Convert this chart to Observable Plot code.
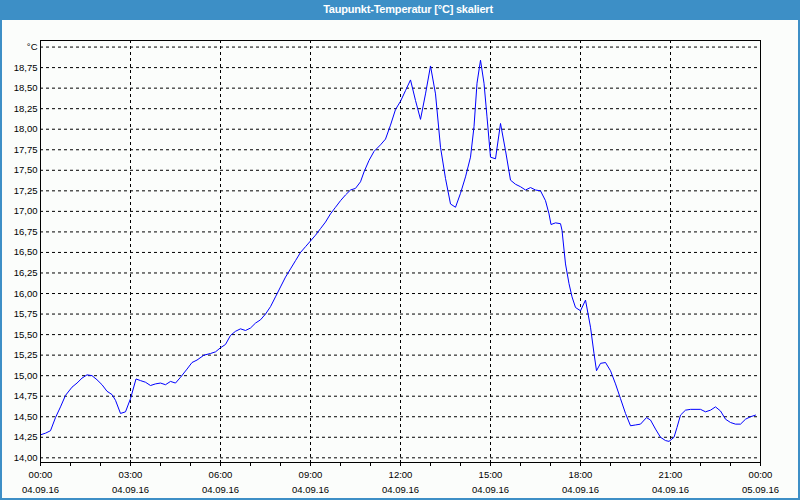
<!DOCTYPE html>
<html>
<head>
<meta charset="utf-8">
<script src="https://cdn.jsdelivr.net/npm/d3@7"></script>
<script src="https://cdn.jsdelivr.net/npm/@observablehq/plot@0.6"></script>
<style>
  html, body { margin: 0; padding: 0; background: #ffffff; }
  #wrap { position: relative; width: 800px; height: 500px; box-sizing: border-box;
          border-left: 2px solid #3d8fc6; border-right: 2px solid #3d8fc6; border-bottom: 2px solid #3d8fc6;
          background: #fbfdfb; overflow: hidden; }
  #title { height: 20px; background: #3d8fc6; color: #ffffff; font: bold 11px "Liberation Sans", Arial, sans-serif;
           line-height: 19px; text-align: center; padding-left: 16px; box-sizing: border-box; letter-spacing: -0.2px; }
  #chart svg { display: block; }
</style>
</head>
<body>
<div id="wrap">
  <div id="title">Taupunkt-Temperatur [°C] skaliert</div>
  <div id="chart"></div>
</div>
<script>
const times = ["00:00","00:10","00:20","00:30","00:40","00:50","01:03","01:13","01:23","01:33","01:43","01:53",
  "02:03","02:13","02:23","02:30","02:40","02:50","03:00","03:11","03:20","03:30","03:40","03:50",
  "04:00","04:10","04:20","04:30","04:40","04:53","05:03","05:13","05:27","05:40","05:50",
  "06:00","06:10","06:20","06:30","06:40","06:50","07:00","07:10","07:20","07:30","07:40","07:50",
  "08:00","08:10","08:20","08:30","08:40","08:50","09:00","09:10","09:20","09:30","09:40","09:50",
  "10:00","10:10","10:20","10:30","10:40","10:47","10:57","11:07","11:20","11:30","11:40","11:50",
  "12:00","12:10","12:20","12:30","12:40","12:50","13:00","13:10","13:20","13:30","13:40","13:50",
  "14:00","14:10","14:20","14:27","14:33","14:40","14:47","14:53","15:00","15:10","15:20","15:30","15:40","15:50",
  "16:00","16:10","16:20","16:30","16:40","16:50","16:57","17:01","17:10","17:20","17:23","17:30","17:37","17:43","17:50",
  "18:00","18:10","18:20","18:27","18:32","18:40","18:50","19:00","19:10","19:20","19:30","19:40","19:50",
  "20:00","20:12","20:20","20:30","20:40","20:50","20:57","21:07","21:13","21:20","21:30","21:40",
  "22:00","22:10","22:20","22:30","22:40","22:50","23:00","23:10","23:20","23:30","23:40","23:50"];
const values = [14.28,14.30,14.33,14.49,14.62,14.76,14.86,14.91,14.97,15.01,15.00,14.95,
  14.89,14.81,14.77,14.70,14.54,14.56,14.72,14.96,14.94,14.92,14.88,14.90,
  14.91,14.89,14.93,14.91,14.98,15.08,15.16,15.19,15.25,15.27,15.29,
  15.34,15.38,15.49,15.54,15.57,15.55,15.58,15.64,15.68,15.75,15.84,15.96,
  16.08,16.20,16.30,16.40,16.50,16.57,16.64,16.71,16.79,16.87,16.97,17.05,
  17.13,17.20,17.26,17.28,17.36,17.48,17.62,17.73,17.81,17.88,18.05,18.24,
  18.34,18.47,18.60,18.35,18.12,18.43,18.77,18.43,17.78,17.40,17.09,17.05,
  17.22,17.42,17.66,18.03,18.56,18.84,18.56,18.15,17.66,17.64,18.07,17.74,17.38,17.33,
  17.30,17.26,17.29,17.26,17.25,17.13,16.97,16.84,16.86,16.85,16.77,16.36,16.12,15.96,15.83,
  15.79,15.92,15.59,15.27,15.06,15.15,15.16,15.06,14.90,14.72,14.54,14.39,14.40,
  14.41,14.49,14.46,14.35,14.25,14.21,14.20,14.25,14.37,14.52,14.58,14.59,
  14.59,14.56,14.58,14.62,14.57,14.47,14.43,14.41,14.41,14.47,14.50,14.52];
const yTicks = [14.00,14.25,14.50,14.75,15.00,15.25,15.50,15.75,16.00,16.25,16.50,16.75,17.00,17.25,17.50,17.75,18.00,18.25,18.50,18.75,19.00];
const xTickHours = [0,3,6,9,12,15,18,21,24];
const yDomain = [13.943, 19.08];

const t = (s) => { const [h, m] = s.split(":").map(Number); return new Date(Date.UTC(2016, 8, 4, h, m)); };
const data = times.map((s, i) => ({date: t(s), value: values[i]}));
const xStart = new Date(Date.UTC(2016, 8, 4, 0, 0));
const xEnd = new Date(Date.UTC(2016, 8, 5, 0, 0));
const majorTicks = xTickHours.map(h => new Date(Date.UTC(2016, 8, 4, h)));
const innerTicks = majorTicks.slice(1, -1);
const hourTicks = d3.utcHour.range(xStart, new Date(+xEnd + 1));
const pad = (n) => String(n).padStart(2, "0");
const fmtTime = (d) => pad(d.getUTCHours()) + ":" + pad(d.getUTCMinutes());
const fmtDate = (d) => pad(d.getUTCDate()) + "." + pad(d.getUTCMonth() + 1) + "." + String(d.getUTCFullYear()).slice(2);
const fmtY = (v) => v === 19 ? "°C" : v.toFixed(2).replace(".", ",");

const chart = Plot.plot({
  width: 796,
  height: 478,
  marginLeft: 38,
  marginRight: 38,
  marginTop: 20,
  marginBottom: 36,
  style: {background: "transparent", fontFamily: "'Liberation Sans', Arial, sans-serif", fontSize: "9.5px", color: "#000", overflow: "visible"},
  x: {type: "utc", domain: [xStart, xEnd]},
  y: {domain: yDomain},
  marks: [
    Plot.gridY(yTicks, {stroke: "#000", strokeOpacity: 1, strokeDasharray: "3,3"}),
    Plot.gridX(innerTicks, {stroke: "#000", strokeOpacity: 1, strokeDasharray: "3,3"}),
    Plot.axisY(yTicks, {tickSize: 0, tickPadding: 3, tickFormat: fmtY, label: null, fill: "#000"}),
    Plot.axisX(hourTicks, {tickSize: 4, text: null, label: null, stroke: "#000"}),
    Plot.axisX(majorTicks, {tickSize: 0, tickPadding: 8.5, tickFormat: fmtTime, label: null, fill: "#000"}),
    Plot.axisX(majorTicks, {tickSize: 0, tickPadding: 23.5, tickFormat: fmtDate, label: null, fill: "#000"}),
    Plot.lineY(data, {x: "date", y: "value", stroke: "#0000ff", strokeWidth: 1}),
    Plot.frame({stroke: "#000", strokeWidth: 1})
  ]
});
document.getElementById("chart").appendChild(chart);
</script>
</body>
</html>
